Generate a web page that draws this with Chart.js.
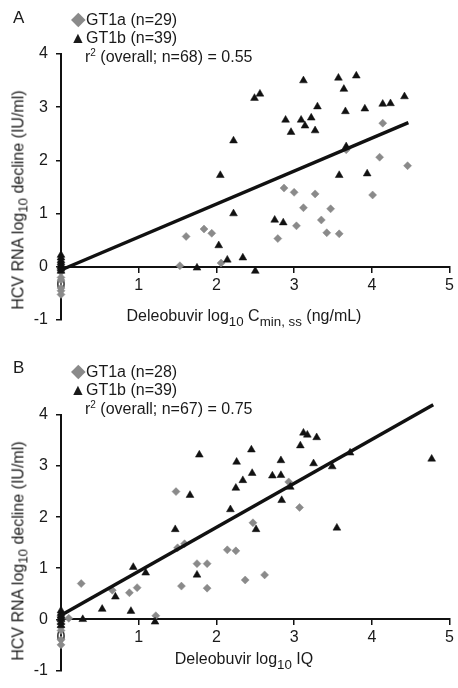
<!DOCTYPE html>
<html>
<head>
<meta charset="utf-8">
<script src="https://cdn.jsdelivr.net/npm/chart.js@4"></script>
<style>
  body { margin: 0; background: #fff; font-family: 'Liberation Sans', Arial, sans-serif; color: #1a1a1a; }
  .panel { position: relative; width: 458px; height: 344px; }
  .panel canvas { position: absolute; left: 0; top: 0; }
  .txt { position: absolute; white-space: nowrap; font-size: 16px; line-height: 19px; }
  .txt sub, .txt sup { font-size: 10px; line-height: 0; }
  .letter { font-size: 17px; }
  .dia, .tri { display: inline-block; width: 16px; text-align: center; }
  .dia { color: #8a8a8a; font-size: 19px; }
  .tri { color: #1a1a1a; font-size: 16px; }
  .ytitle { position: absolute; white-space: nowrap; font-size: 16px; transform: translate(-50%, -50%) rotate(-90deg); }
  .xtitle { position: absolute; white-space: nowrap; font-size: 16px; transform: translate(-50%, -50%); }
</style>
</head>
<body>
<div class="panel" id="panel-a">
  <canvas id="chart-a" width="458" height="344"></canvas>
  <div class="txt letter" style="left:13px; top:8px;">A</div>
  <div class="txt" style="left:70px; top:9px;"><span class="dia">&#9670;</span>GT1a (n=29)</div>
  <div class="txt" style="left:70px; top:28px;"><span class="tri">&#9650;</span>GT1b (n=39)</div>
  <div class="txt" style="left:85px; top:47px;">r<sup>2</sup> (overall; n=68) = 0.55</div>
  <div class="ytitle" style="left:20px; top:200px;">HCV RNA log<sub>10</sub> decline (IU/ml)</div>
  <div class="xtitle" style="left:244px; top:318px;">Deleobuvir log<sub>10</sub> C<sub>min, ss</sub> (ng/mL)</div>
</div>
<div class="panel" id="panel-b">
  <canvas id="chart-b" width="458" height="344"></canvas>
  <div class="txt letter" style="left:13px; top:14px;">B</div>
  <div class="txt" style="left:70px; top:17px;"><span class="dia">&#9670;</span>GT1a (n=28)</div>
  <div class="txt" style="left:70px; top:36px;"><span class="tri">&#9650;</span>GT1b (n=39)</div>
  <div class="txt" style="left:85px; top:55px;">r<sup>2</sup> (overall; n=67) = 0.75</div>
  <div class="ytitle" style="left:20px; top:207px;">HCV RNA log<sub>10</sub> decline (IU/ml)</div>
  <div class="xtitle" style="left:244px; top:317px;">Deleobuvir log<sub>10</sub> IQ</div>
</div>
<script>
// Panel A: log10 Cmin,ss vs HCV RNA decline
const aGt1aX = [0, 0, 0, 0, 0, 0, 0, 0, 0, 1.53, 1.61, 1.84, 1.94, 2.06, 2.79, 2.87, 3.0, 3.03, 3.12, 3.27, 3.35, 3.42, 3.47, 3.58, 3.67, 4.01, 4.10, 4.14, 4.46];
const aGt1aY = [0, -0.02, -0.05, -0.1, -0.2, -0.25, -0.4, -0.45, -0.52, 0.02, 0.57, 0.71, 0.63, 0.07, 0.53, 1.48, 1.40, 0.77, 1.11, 1.37, 0.88, 0.64, 1.09, 0.62, 2.20, 1.35, 2.06, 2.70, 1.90];
const aGt1bX = [0, 0, 0, 0, 0, 0, 0, 0, 1.75, 2.03, 2.05, 2.14, 2.22, 2.22, 2.34, 2.49, 2.5, 2.56, 2.75, 2.86, 2.89, 2.96, 3.09, 3.12, 3.14, 3.22, 3.27, 3.30, 3.57, 3.58, 3.64, 3.66, 3.67, 3.80, 3.91, 3.94, 4.14, 4.24, 4.42];
const aGt1bY = [0.22, 0.17, 0.12, 0.08, 0.04, 0.01, -0.03, -0.08, -0.02, 0.40, 1.72, 0.13, 1.0, 2.37, 0.17, 3.17, -0.08, 3.25, 0.88, 0.83, 2.76, 2.53, 2.76, 3.50, 2.65, 2.80, 2.56, 3.01, 3.55, 1.72, 3.34, 2.92, 2.26, 3.59, 2.97, 1.75, 3.06, 3.07, 3.20];
const aFitX = [0, 4.47];
const aFitY = [-0.06, 2.71];

// Panel B: log10 IQ vs HCV RNA decline
const bGt1aX = [0, 0, 0, 0, 0, 0, 0, 0, 0.10, 0.26, 0.66, 0.88, 0.98, 1.22, 1.48, 1.50, 1.55, 1.59, 1.75, 1.88, 1.88, 2.14, 2.25, 2.37, 2.47, 2.62, 2.93, 3.07];
const bGt1aY = [0.05, 0, -0.03, -0.08, -0.15, -0.22, -0.4, -0.5, 0.02, 0.70, 0.57, 0.52, 0.62, 0.07, 2.50, 1.40, 0.65, 1.48, 1.09, 1.09, 0.61, 1.36, 1.34, 0.77, 1.89, 0.87, 2.69, 2.19];
const bGt1bX = [0, 0, 0, 0, 0, 0, 0, 0.28, 0.53, 0.70, 0.90, 0.93, 1.09, 1.21, 1.47, 1.66, 1.75, 1.78, 2.18, 2.25, 2.26, 2.34, 2.45, 2.46, 2.51, 2.72, 2.83, 2.83, 2.84, 2.95, 3.08, 3.12, 3.17, 3.25, 3.29, 3.49, 3.55, 3.72, 4.77];
const bGt1bY = [0.17, 0.12, 0.07, 0.03, 0, -0.06, -0.12, 0.0, 0.20, 0.44, 0.16, 1.02, 0.91, -0.05, 1.76, 2.43, 0.87, 3.22, 2.15, 2.57, 3.08, 2.72, 3.32, 2.86, 1.76, 2.81, 2.82, 3.11, 2.33, 2.59, 3.40, 3.65, 3.61, 3.05, 3.56, 2.99, 1.79, 3.26, 3.14];
const bFitX = [0, 4.79];
const bFitY = [0.08, 4.20];

const xTicks = [0, 1, 2, 3, 4, 5];
const yTicks = [-1, 0, 1, 2, 3, 4];

function pairs(xs, ys) {
    return xs.map((x, i) => ({ x: x, y: ys[i] }));
}

const tickFont = { family: "'Liberation Sans', Arial, sans-serif", size: 16 };

function makeChart(id, gt1a, gt1b, fit, pad) {
    const ctx = document.getElementById(id).getContext('2d');
    return new Chart(ctx, {
        type: 'scatter',
        data: {
            datasets: [
                {
                    label: 'fit',
                    type: 'line',
                    data: fit,
                    borderColor: '#111',
                    borderWidth: 3.5,
                    pointRadius: 0,
                    fill: false,
                    order: 0,
                    clip: false
                },
                {
                    label: 'GT1b',
                    data: gt1b,
                    pointStyle: 'triangle',
                    pointRadius: 4.5,
                    backgroundColor: '#111',
                    borderColor: '#111',
                    borderWidth: 0.5,
                    order: 1,
                    clip: false
                },
                {
                    label: 'GT1a',
                    data: gt1a,
                    pointStyle: 'rectRot',
                    pointRadius: 4,
                    backgroundColor: '#8a8a8a',
                    borderColor: '#8a8a8a',
                    borderWidth: 0.5,
                    order: 2,
                    clip: false
                }
            ]
        },
        options: {
            responsive: false,
            animation: false,
            devicePixelRatio: 1,
            layout: { padding: pad },
            plugins: {
                legend: { display: false },
                tooltip: { enabled: false }
            },
            scales: {
                x: {
                    type: 'linear',
                    position: { y: 0 },
                    min: 0,
                    max: 5,
                    afterBuildTicks: function(scale) {
                        scale.ticks = xTicks.map(v => ({ value: v }));
                    },
                    grid: { drawOnChartArea: false, drawTicks: true, tickLength: 5, color: '#111', lineWidth: 1.5 },
                    border: { display: true, color: '#111', width: 2 },
                    ticks: { color: '#1a1a1a', font: tickFont, padding: 4, maxRotation: 0, autoSkip: false }
                },
                y: {
                    type: 'linear',
                    position: 'left',
                    min: -1,
                    max: 4,
                    afterBuildTicks: function(scale) {
                        scale.ticks = yTicks.map(v => ({ value: v }));
                    },
                    afterFit: function(scale) {
                        scale.width = 61 - pad.left;
                    },
                    grid: { drawOnChartArea: false, drawTicks: true, tickLength: 5, color: '#111', lineWidth: 1.5 },
                    border: { display: true, color: '#111', width: 2 },
                    ticks: { color: '#1a1a1a', font: tickFont, padding: 8 }
                }
            }
        }
    });
}

makeChart('chart-a', pairs(aGt1aX, aGt1aY), pairs(aGt1bX, aGt1bY), pairs(aFitX, aFitY),
    { left: 0, top: 54, right: 5, bottom: 24 });
makeChart('chart-b', pairs(bGt1aX, bGt1aY), pairs(bGt1bX, bGt1bY), pairs(bFitX, bFitY),
    { left: 0, top: 71, right: 5, bottom: 7 });
</script>
</body>
</html>
